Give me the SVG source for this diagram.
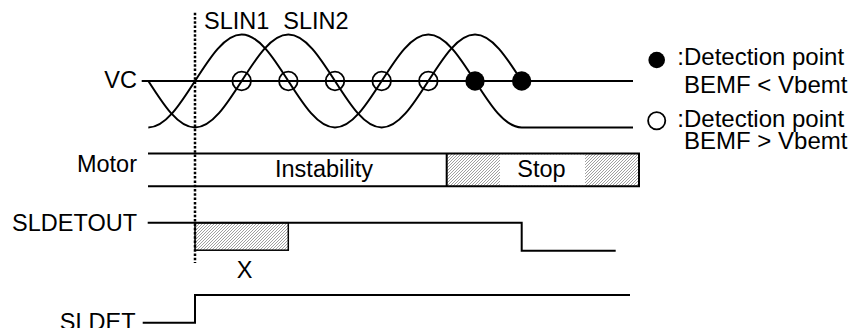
<svg xmlns="http://www.w3.org/2000/svg" width="848" height="328" viewBox="0 0 848 328">
<defs>
<pattern id="hatch" patternUnits="userSpaceOnUse" width="3" height="3">
<rect width="3" height="3" fill="#fff"/>
<path d="M-0.75,0.75 L0.75,-0.75 M0,3 L3,0 M2.25,3.75 L3.75,2.25" stroke="#888" stroke-width="0.8"/>
</pattern>
<style>
text{font-family:"Liberation Sans",Arial,sans-serif;font-size:23.5px;fill:#000}
.lg{font-size:24px}
.ln{fill:none;stroke:#000;stroke-width:2}
.oc{fill:none;stroke:#000;stroke-width:1.8}
.fc{fill:#000}
</style>
</defs>
<rect width="848" height="328" fill="#fff"/>

<g id="labels">
<text x="204" y="29.3">SLIN1</text>
<text x="283.3" y="29.3">SLIN2</text>
<text x="137" y="88.3" text-anchor="end">VC</text>
<text x="137" y="172.3" text-anchor="end">Motor</text>
<text x="137" y="230.7" text-anchor="end">SLDETOUT</text>
<text x="135.5" y="329.5" text-anchor="end">SLDET</text>
<text x="244.5" y="278" text-anchor="middle">X</text>
</g>

<g id="vc-signals">
<line class="ln" x1="141.7" y1="81" x2="633" y2="81"/>
<path id="slin1" class="ln" d="M148.33,127.5 c16.89,0 31.45,-22.7 46.67,-46.5 c15.22,-23.8 29.78,-46.5 46.67,-46.5 c16.89,0 31.45,22.7 46.67,46.5 c15.22,23.8 29.78,46.5 46.67,46.5 c16.89,0 31.45,-22.7 46.67,-46.5 c15.22,-23.8 29.78,-46.5 46.67,-46.5 c16.89,0 31.45,22.7 46.67,46.5 c15.22,23.8 29.78,46.5 46.67,46.5 H633"/>
<path id="slin2" class="ln" d="M148.33,81 c15.22,23.8 29.78,46.5 46.67,46.5 c16.89,0 31.45,-22.7 46.67,-46.5 c15.22,-23.8 29.78,-46.5 46.67,-46.5 c16.89,0 31.45,22.7 46.67,46.5 c15.22,23.8 29.78,46.5 46.67,46.5 c16.89,0 31.45,-22.7 46.67,-46.5 c15.22,-23.8 29.78,-46.5 46.67,-46.5 c16.89,0 31.45,22.7 46.67,46.5"/>
</g>

<g id="detection-points">
<circle class="oc" cx="241.67" cy="81" r="9.3"/>
<circle class="oc" cx="288.33" cy="81" r="9.3"/>
<circle class="oc" cx="335" cy="81" r="9.3"/>
<circle class="oc" cx="381.67" cy="81" r="9.3"/>
<circle class="oc" cx="428.33" cy="81" r="9.3"/>
<circle class="fc" cx="475" cy="81" r="9.7"/>
<circle class="fc" cx="521.67" cy="81" r="9.7"/>
</g>

<g id="legend">
<circle class="fc" cx="656.7" cy="60" r="8.3"/>
<text class="lg" x="677.3" y="65">:Detection point</text>
<text class="lg" x="684" y="92.7">BEMF &lt; Vbemt</text>
<circle class="oc" cx="656.7" cy="120.7" r="8.6"/>
<text class="lg" x="677.3" y="126.7">:Detection point</text>
<text class="lg" x="684" y="149.3">BEMF &gt; Vbemt</text>
</g>

<g id="motor">
<rect x="446.7" y="153.5" width="192.3" height="32.8" fill="url(#hatch)"/>
<rect x="500" y="154.5" width="85" height="31" fill="#fff"/>
<path class="ln" d="M148,153.5 H639 V186.3 H148 M446.7,153.5 V186.3"/>
<text x="324" y="177" text-anchor="middle">Instability</text>
<text x="541.5" y="176.7" text-anchor="middle">Stop</text>
</g>

<g id="sldetout">
<rect x="195" y="222.7" width="93.3" height="27.5" fill="url(#hatch)" stroke="#000" stroke-width="1.5"/>
<path class="ln" d="M147.7,222.7 H521.7 V250.7 H615.7"/>
</g>

<g id="sldet">
<path class="ln" d="M142.7,322.7 H195 V295 H630"/>
</g>

<g id="connectors">
<line x1="195" y1="12.7" x2="195" y2="263" stroke="#000" stroke-width="2.5" stroke-dasharray="2.5 1.8"/>
</g>
</svg>
